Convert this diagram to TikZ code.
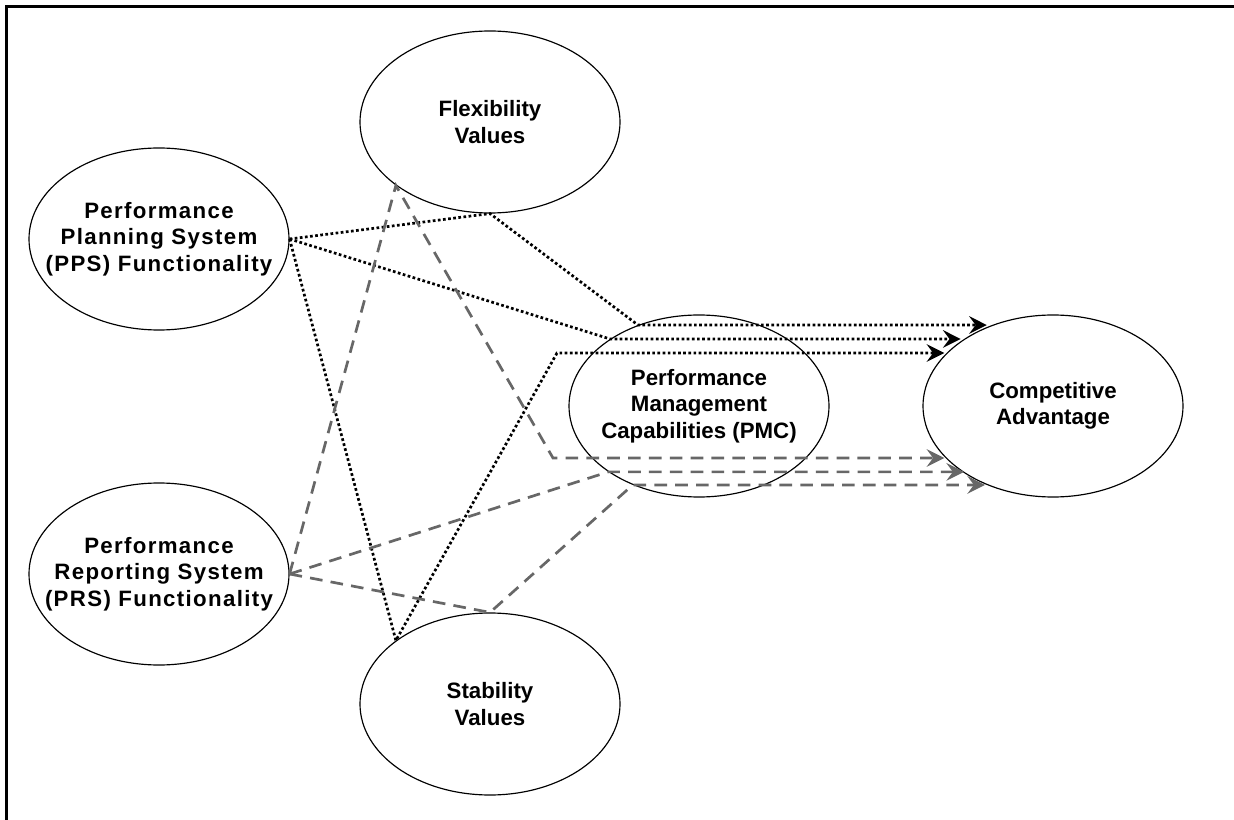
\documentclass[tikz,border=0pt]{standalone}
\usepackage{fontspec}
\setmainfont{Liberation Sans}
\usepackage{tikz}
\usetikzlibrary{shapes, arrows.meta, positioning}
\definecolor{dashgray}{HTML}{676767}
\tikzstyle{construct} = [ellipse, draw=black, line width=1pt, minimum width=7.8cm, minimum height=5.46cm, inner xsep=-1cm, inner ysep=0pt, align=center, font=\bfseries\fontsize{19pt}{22.5pt}\selectfont]
\tikzstyle{spaced} = [font=\bfseries\fontsize{19pt}{22.5pt}\selectfont\addfontfeature{LetterSpace=6}]
\tikzstyle{dotpath} = [draw=black, line width=2.3pt, dash pattern=on 2.3pt off 2.1pt, -{Stealth[length=15pt, width=15pt, inset=5.5pt]}]
\tikzstyle{dashpath} = [draw=dashgray, line width=2.3pt, dash pattern=on 10.8pt off 7pt, -{Stealth[length=15pt, width=15pt, inset=5.5pt]}]

\begin{document}
\begin{tikzpicture}[node distance=4cm]
\useasboundingbox (0,0) rectangle (37.02,-24.6);
\draw[line width=2.8pt] (0.2,-24.8) -- (0.2,-0.2) -- (37.2,-0.2);
\node (pps) [construct, spaced] at (4.77,-7.17) {Performance\\Planning System\\(PPS) Functionality};
\node (prs) [construct, spaced, below of=pps, yshift=-6.05cm] {Performance\\Reporting System\\(PRS) Functionality};
\node (flex) [construct, right of=pps, xshift=5.93cm, yshift=3.51cm] {Flexibility\\Values};
\node (stab) [construct, below of=flex, yshift=-13.46cm] {Stability\\Values};
\node (pmc) [construct, right of=pps, xshift=12.2cm, yshift=-5.01cm] {Performance\\Management\\Capabilities (PMC)};
\node (ca) [construct, right of=pmc, xshift=6.62cm] {Competitive\\Advantage};
\coordinate[left of=pmc, xshift=-0.26cm, yshift=1.59cm] (d3bend);
\coordinate[left of=pmc, xshift=-0.38cm, yshift=-1.56cm] (g1bend);
% planning paths
\draw[dotpath] (pps.east) -- (flex.south) -- (pmc.127) -- (ca.130 |- pmc.127);
\draw[dotpath] (pps.east) -- (pmc.143) -- (ca.145 |- pmc.143);
\draw[dotpath] (pps.east) -- (stab.146) -- (d3bend) -- (ca.155 |- d3bend);
% reporting paths
\draw[dashpath] (prs.east) -- (flex.214) -- (g1bend) -- (ca.205 |- g1bend);
\draw[dashpath] (prs.east) -- (pmc.216) -- (ca.217 |- pmc.216);
\draw[dashpath] (prs.east) -- (stab.north) -- (pmc.230) -- (ca.229 |- pmc.230);
\end{tikzpicture}
\end{document}
